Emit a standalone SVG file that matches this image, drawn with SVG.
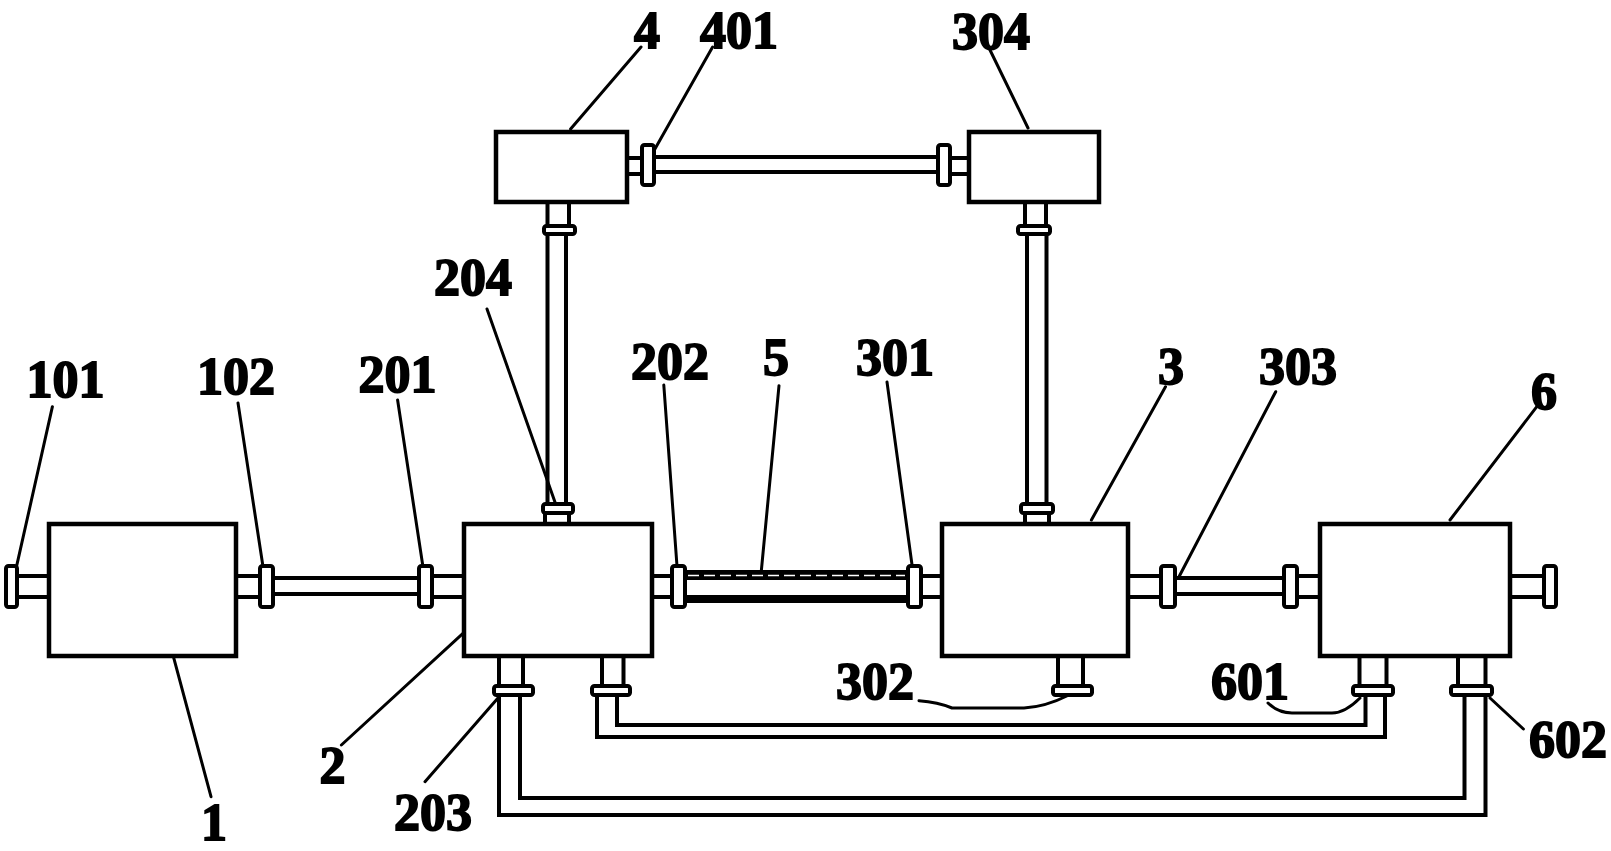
<svg xmlns="http://www.w3.org/2000/svg" width="1611" height="851" viewBox="0 0 1611 851">
<style>
.b{fill:#fff;stroke:#000;stroke-width:4.5}
.f{fill:#fff;stroke:#000;stroke-width:4;rx:2.5}
.p{fill:none;stroke:#000;stroke-width:4}
.l{fill:none;stroke:#000;stroke-width:3;stroke-linecap:round}
text{font-family:"Liberation Serif","Times New Roman",serif;font-weight:bold;font-size:52px;text-anchor:middle;fill:#000;stroke:#000;stroke-width:1.8}
</style>
<rect width="1611" height="851" fill="#fff"/>
<g id="connectors">
<path class="p" d="M16 576H49M16 597H49M236 576H260M236 597H260M273 578H419M273 594H419M432 576H464M432 597H464"/>
<path class="p" d="M652 576H672M652 597H672M921 576H942M921 597H942"/>
<path d="M686 570H907V580H686Z"/><path stroke="#fff" stroke-width="1.3" stroke-dasharray="11 5" d="M688 575.500H905"/>
<path d="M686 595H907V603H686Z"/>
<path class="p" d="M1128 576H1161M1128 597H1161M1175 578H1284M1175 594H1284M1297 576H1320M1297 597H1320M1510 576H1544M1510 597H1544"/>
<path class="p" d="M627 158H642M627 174H642M655 157H937M655 172H937M950 158H969M950 174H969"/>
<path class="p" d="M547.500 202V228M569 202V228M547.500 234V505M566 234V505M545 512V524M569 512V524"/>
<path class="p" d="M1025 202V228M1046 202V228M1027 234V505M1046.500 234V505M1025 512V524M1049 512V524"/>
<path class="p" d="M499 656V687M523 656V687M602 656V687M623.500 656V687M1058 656V687M1083 656V687M1359.500 656V687M1386.500 656V687M1458 656V687M1485.500 656V687"/>
<path class="p" d="M499 694V815H1485.500V694M520 694V798H1464.500V694M597 694V737H1385V694M617 694V725H1365.500V694"/>
<path class="l" d="M52.400 406.700L12 586.700M238 403L265.500 583M397.600 400L426 586.700M173.400 656.700L211 796.700M463.800 632.700L341.400 745M498 698L425 781.700M487 309L556 505M641 47L570.600 129M712.600 47L647 163M990 50L1028 128M663.800 385L678.600 588M779 385.700L761.400 570M887 382L914.500 583M1165.500 386.700L1091.400 520M1275.700 391.700L1179 576.700M1536.800 406.700L1450 520M1490 698L1523.400 729"/>
<path class="l" d="M1268 703Q1278 713 1292 713H1332Q1345 713 1360 698M919 700.700Q938 702 952 708H1024Q1045 707 1069 695"/>
</g>
<g id="node-1"><rect class="b" x="49" y="524" width="187" height="132"/><text x="214" y="840">1</text></g>
<g id="node-101"><rect class="f" x="6" y="566" width="11" height="41"/><text x="65.500" y="397">101</text></g>
<g id="node-102"><rect class="f" x="260" y="566" width="13" height="41"/><text x="236" y="394">102</text></g>
<g id="node-201"><rect class="f" x="419" y="566" width="13" height="41"/><text x="397.500" y="392">201</text></g>
<g id="node-2"><rect class="b" x="464" y="524" width="188" height="132"/><text x="332.500" y="782.700">2</text></g>
<g id="node-202"><rect class="f" x="672" y="566" width="13" height="41"/><text x="670" y="379">202</text></g>
<g id="node-203"><rect class="f" x="494" y="686" width="39" height="9"/><text x="433" y="830">203</text></g>
<g id="node-204"><rect class="f" x="543" y="504" width="30" height="9"/><text x="473" y="294.500">204</text></g>
<g id="node-3"><rect class="b" x="942" y="524" width="186" height="132"/><text x="1171" y="384">3</text></g>
<g id="node-301"><rect class="f" x="908" y="566" width="13" height="41"/><text x="895" y="375">301</text></g>
<g id="node-302"><rect class="f" x="1053" y="686" width="39" height="9"/><text x="875" y="699">302</text></g>
<g id="node-303"><rect class="f" x="1161" y="566" width="14" height="41"/><text x="1298" y="384">303</text></g>
<g id="node-4"><rect class="b" x="496" y="132" width="131" height="70"/><text x="647" y="48">4</text></g>
<g id="node-401"><rect class="f" x="642" y="145" width="12" height="40"/><text x="739" y="48">401</text></g>
<g id="node-304"><rect class="b" x="969" y="132" width="130" height="70"/><rect class="f" x="938" y="145" width="12" height="40"/><text x="991" y="49">304</text></g>
<g id="node-5"><text x="776" y="375">5</text></g>
<g id="node-6"><rect class="b" x="1320" y="524" width="190" height="132"/><rect class="f" x="1284" y="566" width="13" height="41"/><rect class="f" x="1544" y="566" width="12" height="41"/><text x="1544" y="409">6</text></g>
<g id="node-601"><rect class="f" x="1353" y="686" width="40" height="9"/><text x="1250" y="699">601</text></g>
<g id="node-602"><rect class="f" x="1451" y="686" width="41" height="9"/><text x="1568" y="757">602</text></g>
<g id="flanges"><rect class="f" x="544" y="226" width="31" height="8"/><rect class="f" x="1018" y="226" width="32" height="8"/><rect class="f" x="592" y="686" width="38" height="9"/><rect class="f" x="1021" y="504" width="32" height="9"/></g>
</svg>
